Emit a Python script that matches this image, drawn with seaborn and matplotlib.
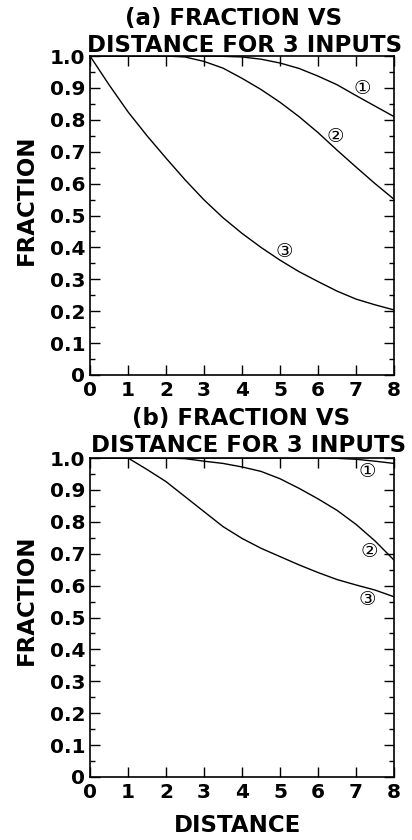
import numpy as np
import pandas as pd
import matplotlib
matplotlib.use("Agg")
import matplotlib.pyplot as plt
import seaborn as sns
from matplotlib.ticker import MultipleLocator, FixedLocator, FuncFormatter

# ---------------- data ----------------
distance = [0, 0.5, 1, 1.5, 2, 2.5, 3, 3.5, 4, 4.5, 5, 5.5, 6, 6.5, 7, 7.5, 8]

# panel (a)
a_curve1 = [1.0, 1.0, 1.0, 1.0, 1.0, 1.0, 1.0, 0.999, 0.997, 0.990, 0.978, 0.961, 0.937, 0.910, 0.876, 0.843, 0.810]
a_curve2 = [1.0, 1.0, 1.0, 1.0, 1.0, 0.997, 0.983, 0.962, 0.930, 0.895, 0.855, 0.810, 0.760, 0.705, 0.652, 0.600, 0.551]
a_curve3 = [1.0, 0.910, 0.825, 0.750, 0.680, 0.612, 0.549, 0.493, 0.444, 0.400, 0.360, 0.324, 0.293, 0.263, 0.238, 0.220, 0.204]

# panel (b)
b_curve1 = [1.0, 1.0, 1.0, 1.0, 1.0, 1.0, 1.0, 1.0, 1.0, 1.0, 1.0, 1.0, 1.0, 0.999, 0.996, 0.990, 0.983]
b_curve2 = [1.0, 1.0, 1.0, 1.0, 1.0, 0.998, 0.990, 0.983, 0.972, 0.958, 0.935, 0.905, 0.872, 0.836, 0.792, 0.740, 0.680]
b_curve3 = [1.0, 1.0, 1.0, 0.964, 0.926, 0.879, 0.832, 0.785, 0.748, 0.717, 0.691, 0.665, 0.641, 0.619, 0.602, 0.586, 0.565]

curve_names = ["1", "2", "3"]
curve_marks = ["\u2460", "\u2461", "\u2462"]
# label anchor positions (data coords)
a_label_x = [7.17, 6.45, 5.11]
a_label_y = [0.899, 0.747, 0.387]
b_label_x = [7.31, 7.35, 7.30]
b_label_y = [0.957, 0.706, 0.555]

x_ticks = [0, 1, 2, 3, 4, 5, 6, 7, 8]
y_ticks = [0, 0.1, 0.2, 0.3, 0.4, 0.5, 0.6, 0.7, 0.8, 0.9, 1.0]

titles_line1 = ["(a) FRACTION VS", "(b) FRACTION VS"]
title_line2 = "DISTANCE FOR 3 INPUTS"
y_label = "FRACTION"
x_label = "DISTANCE"

# ---------------- style ----------------
sns.set_style("ticks")
plt.rcParams["font.family"] = ["DejaVu Sans", "Noto Sans CJK SC"]
plt.rcParams["font.weight"] = "bold"
plt.rcParams["text.color"] = "black"
plt.rcParams["axes.labelcolor"] = "black"
plt.rcParams["xtick.color"] = "black"
plt.rcParams["ytick.color"] = "black"

W, H = 412, 840
fig = plt.figure(figsize=(W / 100, H / 100), dpi=100)
fig.patch.set_facecolor("white")

ax_a = fig.add_axes([90 / W, (H - 375) / H, 304 / W, 319 / H])
ax_b = fig.add_axes([90 / W, (H - 777) / H, 304 / W, 319 / H])


def make_df(c1, c2, c3):
    frames = []
    for name, vals in zip(curve_names, [c1, c2, c3]):
        frames.append(pd.DataFrame({"distance": distance, "fraction": vals, "curve": name}))
    return pd.concat(frames, ignore_index=True)


def style_axis(ax):
    ax.set_xlim(0, 8)
    ax.set_ylim(0, 1.0)
    ax.xaxis.set_major_locator(FixedLocator(x_ticks))
    ax.yaxis.set_major_locator(FixedLocator(y_ticks))
    ax.yaxis.set_minor_locator(MultipleLocator(0.05))
    ax.yaxis.set_major_formatter(FuncFormatter(lambda v, p: "0" if abs(v) < 1e-9 else f"{v:.1f}"))
    ax.xaxis.set_major_formatter(FuncFormatter(lambda v, p: f"{int(round(v))}"))
    ax.tick_params(axis="both", which="both", direction="in", top=True, right=True,
                   color="black", width=1.0, labelcolor="black")
    ax.tick_params(axis="both", which="major", length=7)
    ax.tick_params(axis="both", which="minor", length=3.5)
    ax.tick_params(axis="x", which="major", labelsize=14.5, pad=4.5)
    ax.tick_params(axis="y", which="major", labelsize=14.5, pad=3.5)
    for lab in ax.get_xticklabels() + ax.get_yticklabels():
        lab.set_fontweight("bold")
    for sp in ax.spines.values():
        sp.set_visible(True)
        sp.set_linewidth(1.2)
        sp.set_color("black")
    ax.set_xlabel("")
    ax.set_ylabel("")


panels = [
    (ax_a, make_df(a_curve1, a_curve2, a_curve3), a_label_x, a_label_y),
    (ax_b, make_df(b_curve1, b_curve2, b_curve3), b_label_x, b_label_y),
]

for ax, df, lx, ly in panels:
    sns.lineplot(data=df, x="distance", y="fraction", units="curve", estimator=None,
                 color="black", linewidth=1.0, ax=ax, legend=False)
    style_axis(ax)
    for m, x, y in zip(curve_marks, lx, ly):
        ax.text(x, y, m, ha="center", va="center", fontsize=14, fontweight="normal",
                family=["DejaVu Sans", "Noto Sans CJK SC"], color="black")

# y labels
ax_a.text(-0.17, 0.549, y_label, transform=ax_a.transAxes, rotation=90,
          ha="right", va="center", fontsize=16.5, fontweight="bold", color="black")
ax_b.text(-0.17, 0.555, y_label, transform=ax_b.transAxes, rotation=90,
          ha="right", va="center", fontsize=16.5, fontweight="bold", color="black")

# titles (two lines each)
fig.text(234 / W, 1 - 25 / H, titles_line1[0], ha="center", va="baseline",
         fontsize=16.5, fontweight="bold", color="black")
fig.text(245 / W, 1 - 52 / H, title_line2, ha="center", va="baseline",
         fontsize=16.5, fontweight="bold", color="black")
fig.text(241 / W, 1 - 425 / H, titles_line1[1], ha="center", va="baseline",
         fontsize=16.5, fontweight="bold", color="black")
fig.text(249 / W, 1 - 452 / H, title_line2, ha="center", va="baseline",
         fontsize=16.5, fontweight="bold", color="black")

# x label
fig.text(238 / W, 1 - 825 / H, x_label, ha="center", va="center",
         fontsize=16.5, fontweight="bold", color="black")

fig.savefig("out.png", dpi=100, facecolor="white")
